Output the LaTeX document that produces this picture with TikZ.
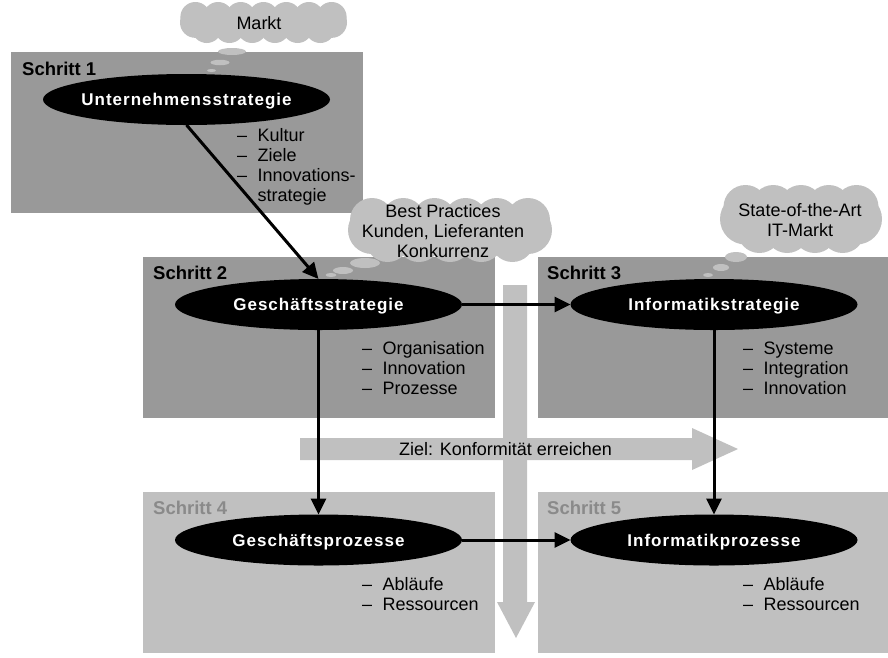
\documentclass[tikz,border=0pt]{standalone}
\usepackage{fontspec}
\setmainfont{Liberation Sans}
\newfontfamily\spaced[LetterSpace=6]{Liberation Sans}
\usetikzlibrary{shapes.geometric,arrows.meta}
\definecolor{boxdark}{RGB}{153,153,153}
\definecolor{boxlight}{RGB}{192,192,192}
\definecolor{steplight}{RGB}{138,138,138}
\newcommand{\bul}[1]{\makebox[20.5pt][l]{–}#1}
% cloud made of puffs: cx, cy, width, height, puffs on top row, puff radius
\newcommand{\puffcloud}[6]{%
 \begin{scope}[shift={(#1,#2)}]
  \pgfmathsetmacro{\pchw}{#3/2}
  \pgfmathsetmacro{\pchh}{#4/2}
  \pgfmathsetmacro{\pcr}{#6}
  \pgfmathsetmacro{\pcR}{0.75*\pchh}
  \pgfmathsetmacro{\pcspan}{\pchw-\pcR}
  \pgfmathsetmacro{\pcstep}{2*\pcspan/(#5-1)}
  \pgfmathtruncatemacro{\pcm}{#5-1}
  \fill[boxlight] (-\pcspan,-\pchh+\pcr) rectangle (\pcspan,\pchh-\pcr);
  \fill[boxlight] (-\pcspan,0) circle[radius=\pcR];
  \fill[boxlight] (\pcspan,0) circle[radius=\pcR];
  \foreach \k in {1,...,#5} {\fill[boxlight] ({-\pcspan+(\k-1)*\pcstep},{-\pchh+\pcr}) circle[radius=\pcr];}
  \foreach \k in {1,...,\pcm} {\fill[boxlight] ({-\pcspan+(\k-0.5)*\pcstep},{\pchh-\pcr}) circle[radius=\pcr];}
 \end{scope}}
\begin{document}
\begin{tikzpicture}[x=1pt,y=-1pt,
  boxd/.style={fill=boxdark, anchor=north west, inner sep=0, outer sep=0, minimum height=161pt},
  boxl/.style={fill=boxlight, anchor=north west, inner sep=0, outer sep=0, minimum height=161pt},
  stepl/.style={anchor=west, inner sep=0, text height=13pt, text depth=0pt, font=\fontsize{18.5}{20}\selectfont\bfseries},
  ell/.style={ellipse, fill=black, minimum width=287pt, minimum height=51pt, inner sep=0, outer sep=0},
  elltext/.style={text=white, inner sep=0, text height=12.5pt, text depth=0pt, font=\spaced\fontsize{17}{20}\selectfont\bfseries},
  itemline/.style={anchor=west, inner sep=0, text height=13pt, text depth=0pt, font=\fontsize{18}{20}\selectfont},
  cloudtext/.style={inner sep=0, align=center, font=\fontsize{18}{20}\selectfont},
  bubble/.style={ellipse, fill=boxlight, inner sep=0, outer sep=0},
  conn/.style={line width=3pt, -{Triangle[length=16pt,width=15pt]}},
  bigarrow/.style={fill=boxlight}
]
\useasboundingbox (0,0) rectangle (888,657);

% boxes
\node[boxd, minimum width=352pt] (b1) at (11,52) {};
\node[boxd, minimum width=352pt] (b2) at (143,257) {};
\node[boxd, minimum width=350pt] (b3) at (538,257) {};
\node[boxl, minimum width=352pt] (b4) at (143,492) {};
\node[boxl, minimum width=350pt] (b5) at (538,492) {};

% big arrows
\fill[bigarrow] (503,285) -- (527,285) -- (527,602) -- (535,602) -- (516,638) -- (497,602) -- (503,602) -- cycle;
\fill[bigarrow] (300,438) -- (692,438) -- (692,428) -- (738,449) -- (692,470) -- (692,460) -- (300,460) -- cycle;
\node[inner sep=0, font=\fontsize{18}{20}\selectfont] (goal) at (505.5,449) {Ziel: Konformität erreichen};

% clouds
\puffcloud{263.5}{22.5}{167}{41}{7}{15}
\node[cloudtext] (c1) at (259,23) {Markt};
\node[bubble, minimum width=28pt, minimum height=7pt] (c1a) at (232,51.5) {};
\node[bubble, minimum width=19pt, minimum height=5.5pt] (c1b) at (220,62.5) {};
\node[bubble, minimum width=9pt, minimum height=3pt] (c1c) at (211.5,70.5) {};

\puffcloud{450}{230}{204}{64}{6}{22}
\node[cloudtext] (c2) at (443,231) {Best Practices\\Kunden, Lieferanten\\Konkurrenz};
\node[bubble, minimum width=30pt, minimum height=10pt] (c2a) at (365,263) {};
\node[bubble, minimum width=20pt, minimum height=7pt] (c2b) at (343,270.5) {};
\node[bubble, minimum width=11pt, minimum height=4pt] (c2c) at (331,275) {};

\puffcloud{801}{219}{162}{68}{5}{22}
\node[cloudtext] (c3) at (800,220) {State-of-the-Art\\IT-Markt};
\node[bubble, minimum width=22pt, minimum height=10pt] (c3a) at (736,257) {};
\node[bubble, minimum width=16pt, minimum height=7pt] (c3b) at (721,267.5) {};
\node[bubble, minimum width=10pt, minimum height=4pt] (c3c) at (708,275) {};

% step labels
\node[stepl] (s1) at (22,68.5) {Schritt 1};
\node[stepl] (s2) at (153,273) {Schritt 2};
\node[stepl] (s3) at (547,273) {Schritt 3};
\node[stepl, text=steplight] (s4) at (153,508) {Schritt 4};
\node[stepl, text=steplight] (s5) at (547,508) {Schritt 5};

% ellipses
\node[ell] (e1) at (186.5,99.5) {};
\node[ell] (e2) at (318.5,304.5) {};
\node[ell] (e3) at (714,304.5) {};
\node[ell] (e4) at (318.5,540) {};
\node[ell] (e5) at (714,540) {};
\node[elltext] (t1) at (e1) {Unternehmensstrategie};
\node[elltext] (t2) at (e2) {Geschäftsstrategie};
\node[elltext] (t3) at (e3) {Informatikstrategie};
\node[elltext] (t4) at (e4) {Geschäftsprozesse};
\node[elltext] (t5) at (e5) {Informatikprozesse};

% lists
\node[itemline] (l1a) at (237,135) {\bul{Kultur}};
\node[itemline] (l1b) at (237,155) {\bul{Ziele}};
\node[itemline] (l1c) at (237,175) {\bul{Innovations-}};
\node[itemline] (l1d) at (257.5,195) {strategie};

\node[itemline] (l2a) at (362,348) {\bul{Organisation}};
\node[itemline] (l2b) at (362,368) {\bul{Innovation}};
\node[itemline] (l2c) at (362,388) {\bul{Prozesse}};

\node[itemline] (l3a) at (743,348) {\bul{Systeme}};
\node[itemline] (l3b) at (743,368) {\bul{Integration}};
\node[itemline] (l3c) at (743,388) {\bul{Innovation}};

\node[itemline] (l4a) at (362,583.5) {\bul{Abläufe}};
\node[itemline] (l4b) at (362,603.5) {\bul{Ressourcen}};

\node[itemline] (l5a) at (743,583.5) {\bul{Abläufe}};
\node[itemline] (l5b) at (743,603.5) {\bul{Ressourcen}};

% connectors
\draw[conn] (e1.south) -- (e2.north);
\draw[conn] (e2.east) -- (e3.west);
\draw[conn] (e2.south) -- (e4.north);
\draw[conn] (e3.south) -- (e5.north);
\draw[conn] (e4.east) -- (e5.west);
\end{tikzpicture}
\end{document}
